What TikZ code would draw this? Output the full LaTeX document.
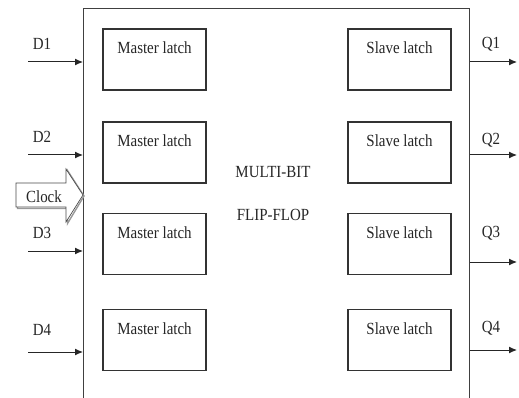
\documentclass[tikz,border=0pt]{standalone}
\usepackage{fontspec}
\setmainfont[FakeStretch=0.88]{Liberation Serif}
\usetikzlibrary{arrows.meta}
\tikzset{
  lbl/.style={font=\fontsize{17}{19}\selectfont, text=black!85, inner sep=0pt},
  latch/.style={draw=black!80, line width=1.1pt, minimum width=103pt, inner xsep=0pt, inner ysep=0pt,
    text height=25pt, text depth=36pt, font=\fontsize{17}{19}\selectfont, text=black!85},
  sig/.style={draw=black!85, line width=1pt, -{Latex[length=8pt,width=7pt]}},
  frame/.style={draw=black!75, line width=1.1pt}
}
\begin{document}
\begin{tikzpicture}[x=1pt,y=-1pt]
\useasboundingbox[fill=white] (0,0) rectangle (519,398);
% multi-bit flip-flop frame (open below the picture)
\node[frame, inner sep=0pt, anchor=north west, minimum width=386pt, minimum height=420pt] (ff) at (83,8) {};
% latches
\foreach \i/\y in {1/59.5, 2/152.5, 3/244, 4/340} {
  \node[latch] (m\i) at (154.5,\y) {Master latch};
  \node[latch] (s\i) at (399.5,\y) {Slave latch};
}
% centre text
\node[lbl] (t1) at (273,172) {MULTI-BIT};
\node[lbl] (t2) at (273,215) {FLIP-FLOP};
% inputs
\foreach \i/\ly/\ay in {1/44/62, 2/137/155, 3/233/251, 4/330/352} {
  \node[lbl] (d\i) at (42,\ly) {D\i};
  \coordinate (din\i) at (28,\ay);
  \draw[sig] (din\i) -- (din\i -| ff.west);
}
% outputs
\foreach \i/\ly/\ay in {1/44/62, 2/140/155, 3/233/262, 4/328/350} {
  \node[lbl] (q\i) at (491,\ly) {Q\i};
  \coordinate (qout\i) at (517,\ay);
  \draw[sig] (qout\i -| ff.east) -- (qout\i);
}
% clock arrow
\draw[draw=black!40, line width=1.4pt, fill=white] (17.5,184.5) -- (67.5,184.5) -- (67.5,170.5) -- (84,196) -- (67.5,223.5) -- (67.5,208.5) -- (17.5,208.5) -- cycle;
\draw[draw=black!70, line width=0.7pt, fill=white] (16,183) -- (66,183) -- (66,169) -- (83,195) -- (66,222) -- (66,207) -- (16,207) -- cycle;
\node[lbl] (clk) at (44,197) {Clock};
\end{tikzpicture}
\end{document}
